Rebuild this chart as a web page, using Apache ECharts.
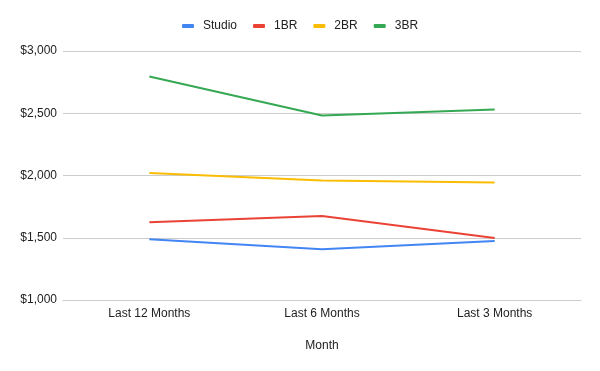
<!DOCTYPE html>
<html><head><meta charset="utf-8">
<script src="https://cdn.jsdelivr.net/npm/echarts@6/dist/echarts.min.js"></script>
<style>html,body{margin:0;padding:0;background:#fff}#c{width:600px;height:371px}</style>
</head><body><div id="c"></div>
<script>
const categories = ["Last 12 Months", "Last 6 Months", "Last 3 Months"];
const studio = [1488, 1407, 1474];
const br1 = [1624, 1675, 1498];
const br2 = [2021, 1959, 1943];
const br3 = [2795, 2482, 2530];
const seriesNames = ["Studio", "1BR", "2BR", "3BR"];
const colors = ["#4285F4", "#EA4335", "#FBBC04", "#34A853"];
const yTicks = [1000, 1500, 2000, 2500, 3000];

const chart = echarts.init(document.getElementById('c'), null, {renderer: 'canvas'});
const font = "'Liberation Sans', Arial, sans-serif";
const mk = (name, data, i) => ({
  name, type: 'line', data, symbol: 'none', smooth: false,
  lineStyle: {width: 2, color: colors[i]}, itemStyle: {color: colors[i]}
});
chart.setOption({
  animation: false,
  textStyle: {fontFamily: font},
  legend: {
    top: 20, left: 182, padding: 0,
    itemWidth: 12, itemHeight: 4, itemGap: 16,
    icon: 'roundRect',
    textStyle: {fontFamily: font, fontSize: 12, color: '#222', padding: [0,0,0,4]},
    data: seriesNames
  },
  grid: {left: 63, right: 19, top: 51, bottom: 71, containLabel: false},
  xAxis: {
    type: 'category', data: categories, boundaryGap: true,
    name: 'Month', nameLocation: 'middle', nameGap: 40,
    nameTextStyle: {fontFamily: font, fontSize: 12, color: '#222'},
    axisLine: {show: true, lineStyle: {color: '#ccc', width: 1}},
    axisTick: {show: false},
    axisLabel: {fontFamily: font, fontSize: 12, color: '#222', margin: 8}
  },
  yAxis: {
    type: 'value', min: yTicks[0], max: yTicks[yTicks.length-1], interval: 500,
    axisLine: {show: false}, axisTick: {show: false},
    splitLine: {lineStyle: {color: '#ccc', width: 1}},
    axisLabel: {fontFamily: font, fontSize: 12, color: '#222', margin: 6,
      verticalAlign: 'middle', padding: [6, 0, 0, 0],
      formatter: v => '$' + v.toLocaleString('en-US')}
  },
  series: [mk("Studio", studio, 0), mk("1BR", br1, 1), mk("2BR", br2, 2), mk("3BR", br3, 3)]
});
</script></body></html>
